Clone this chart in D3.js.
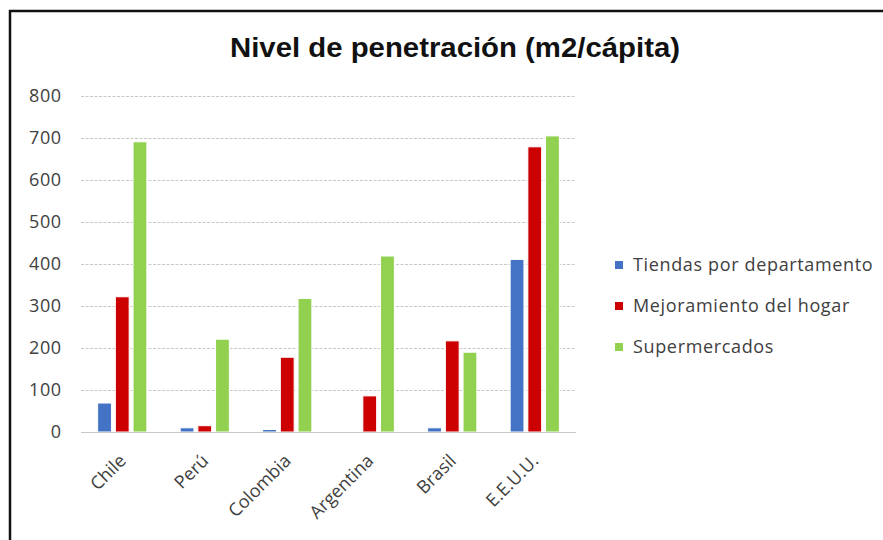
<!DOCTYPE html>
<html>
<head>
<meta charset="utf-8">
<script src="https://cdn.jsdelivr.net/npm/d3@7"></script>
<style>
  body { margin: 0; background: #fff; }
  svg { display: block; }
</style>
</head>
<body>
<script>
var categories = ["Chile", "Perú", "Colombia", "Argentina", "Brasil", "E.E.U.U."];
var seriesNames = ["Tiendas por departamento", "Mejoramiento del hogar", "Supermercados"];
var tiendas = [69, 10, 6, 0, 10, 411];
var mejoramiento = [322, 15, 178, 86, 217, 679];
var supermercados = [691, 221, 318, 419, 190, 705];
var yTicks = [0, 100, 200, 300, 400, 500, 600, 700, 800];
var colors = ["#4472C4", "#CC0000", "#92D050"];

var width = 883, height = 540;
var margin = {left: 81, right: 576, top: 96, bottom: 432};

var svg = d3.select("body")
    .append("svg")
    .attr("width", width)
    .attr("height", height);

// frame (only top and left edge visible in the shot)
svg.append("path")
    .attr("d", "M10,540 V11 H883")
    .attr("fill", "none")
    .attr("stroke", "#111")
    .attr("stroke-width", 2.5);

var x0 = d3.scaleBand()
    .domain(categories)
    .range([margin.left, margin.right])
    .padding(0);

var x1 = d3.scaleBand()
    .domain(d3.range(seriesNames.length))
    .range([0, x0.bandwidth()])
    .paddingInner(0.22)
    .paddingOuter(0.94);

var y = d3.scaleLinear()
    .domain([0, 800])
    .range([margin.bottom, margin.top]);

// gridlines
svg.append("g")
    .selectAll("line")
    .data(yTicks.slice(1))
    .enter()
    .append("line")
    .attr("x1", margin.left)
    .attr("x2", margin.right)
    .attr("y1", function(d) { return y(d) + 0.5; })
    .attr("y2", function(d) { return y(d) + 0.5; })
    .attr("stroke", "#c8c8c8")
    .attr("stroke-dasharray", "3,1.5");

// y labels
svg.append("g")
    .selectAll("text")
    .data(yTicks)
    .enter()
    .append("text")
    .attr("x", 61.5)
    .attr("y", function(d) { return y(d); })
    .attr("dy", "0.36em")
    .attr("text-anchor", "end")
    .attr("font-family", "Open Sans, sans-serif")
    .attr("font-size", 18)
    .attr("letter-spacing", 0.5)
    .attr("fill", "#404040")
    .text(function(d) { return d; });

var values = [tiendas, mejoramiento, supermercados];
var rows = categories.map(function(c, i) {
    return {cat: c, vals: values.map(function(s) { return s[i]; })};
});

var group = svg.append("g")
    .selectAll("g")
    .data(rows)
    .enter()
    .append("g")
    .attr("transform", function(d) { return "translate(" + x0(d.cat) + ",0)"; });

group.selectAll("rect")
    .data(function(d) { return d.vals.map(function(v, k) { return {k: k, v: v}; }); })
    .enter()
    .filter(function(d) { return d.v > 0; })
    .append("rect")
    .attr("x", function(d) { return x1(d.k); })
    .attr("width", x1.bandwidth())
    .attr("y", function(d) { return y(d.v); })
    .attr("height", function(d) { return y(0) - y(d.v); })
    .attr("fill", function(d) { return colors[d.k]; })
    .attr("stroke", "#fff")
    .attr("stroke-width", 1);

// axis line
svg.append("line")
    .attr("x1", margin.left)
    .attr("x2", margin.right)
    .attr("y1", y(0) + 0.5)
    .attr("y2", y(0) + 0.5)
    .attr("stroke", "#c8c8c8")
    .attr("stroke-width", 1.2);

// category labels
svg.append("g")
    .selectAll("text")
    .data(categories)
    .enter()
    .append("text")
    .attr("transform", function(d) {
        return "translate(" + (x0(d) + x0.bandwidth() / 2 - 4) + ",453) rotate(-45)";
    })
    .attr("text-anchor", "end")
    .attr("dy", "0.7em")
    .attr("font-family", "Open Sans, sans-serif")
    .attr("font-size", 18)
    .attr("fill", "#404040")
    .text(function(d) { return d; });

// title
svg.append("text")
    .attr("x", 455)
    .attr("y", 57)
    .attr("text-anchor", "middle")
    .attr("font-family", "Liberation Sans, Arial, sans-serif")
    .attr("font-weight", "bold")
    .attr("font-size", 28)
    .attr("textLength", 450)
    .attr("lengthAdjust", "spacingAndGlyphs")
    .attr("fill", "#111")
    .text("Nivel de penetración (m2/cápita)");

// legend
var legend = svg.append("g")
    .selectAll("g")
    .data(seriesNames)
    .enter()
    .append("g")
    .attr("transform", function(d, i) { return "translate(615," + (265 + i * 41) + ")"; });

legend.append("rect")
    .attr("x", 0)
    .attr("y", -4)
    .attr("width", 8)
    .attr("height", 8)
    .attr("fill", function(d, i) { return colors[i]; });

legend.append("text")
    .attr("x", 18)
    .attr("dy", "0.36em")
    .attr("font-family", "Open Sans, sans-serif")
    .attr("font-size", 18)
    .attr("letter-spacing", 0.65)
    .attr("fill", "#404040")
    .text(function(d) { return d; });
</script>
</body>
</html>
